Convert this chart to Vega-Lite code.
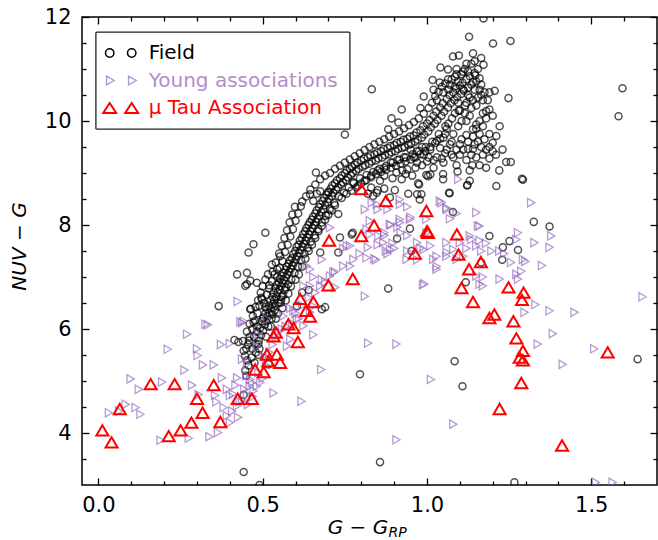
{
  "$schema": "https://vega.github.io/schema/vega-lite/v6.json",
  "width": 575,
  "height": 468,
  "autosize": {"type": "none"},
  "padding": {"left": 82, "top": 17, "right": 1, "bottom": 55},
  "config": {
    "font": "DejaVu Sans",
    "view": {"stroke": "black", "strokeWidth": 1.5},
    "axis": {
      "domain": false, "grid": false,
      "tickColor": "black", "tickWidth": 1.3,
      "labelFont": "DejaVu Sans", "labelFontSize": 21, "labelColor": "black",
      "labelFlush": false, "labelOverlap": false,
      "titleFont": "DejaVu Sans", "titleFontSize": 20, "titleFontWeight": "normal", "titleColor": "black"
    },
    "legend": {"strokeWidth": 1.3}
  },
  "datasets": {
    "field": [
      {"x":0.468,"y":5.62},{"x":0.474,"y":5.85},{"x":0.479,"y":5.55},{"x":0.483,"y":5.95},{"x":0.488,"y":5.78},{"x":0.492,"y":6.02},{"x":0.495,"y":5.88},{"x":0.498,"y":6.15},{"x":0.501,"y":5.97},{"x":0.503,"y":6.22},
      {"x":0.506,"y":6.08},{"x":0.508,"y":6.3},{"x":0.511,"y":6.15},{"x":0.513,"y":6.38},{"x":0.515,"y":6.24},{"x":0.517,"y":6.05},{"x":0.519,"y":6.45},{"x":0.521,"y":6.3},{"x":0.523,"y":6.55},{"x":0.525,"y":6.4},
      {"x":0.527,"y":6.2},{"x":0.529,"y":6.62},{"x":0.531,"y":6.48},{"x":0.533,"y":6.7},{"x":0.535,"y":6.55},{"x":0.537,"y":6.36},{"x":0.539,"y":6.78},{"x":0.541,"y":6.62},{"x":0.543,"y":6.85},{"x":0.545,"y":6.7},
      {"x":0.547,"y":6.5},{"x":0.549,"y":6.9},{"x":0.551,"y":6.76},{"x":0.553,"y":6.96},{"x":0.555,"y":6.82},{"x":0.557,"y":6.62},{"x":0.559,"y":7.02},{"x":0.561,"y":6.88},{"x":0.563,"y":7.08},{"x":0.565,"y":6.94},
      {"x":0.567,"y":6.75},{"x":0.569,"y":7.14},{"x":0.571,"y":7.0},{"x":0.573,"y":7.2},{"x":0.575,"y":7.05},{"x":0.577,"y":6.86},{"x":0.579,"y":7.26},{"x":0.581,"y":7.1},{"x":0.583,"y":7.32},{"x":0.585,"y":7.16},
      {"x":0.587,"y":6.95},{"x":0.589,"y":7.36},{"x":0.591,"y":7.22},{"x":0.593,"y":7.44},{"x":0.595,"y":7.28},{"x":0.597,"y":7.08},{"x":0.599,"y":7.5},{"x":0.601,"y":7.34},{"x":0.603,"y":7.58},{"x":0.605,"y":7.4},
      {"x":0.607,"y":7.2},{"x":0.609,"y":7.62},{"x":0.611,"y":7.46},{"x":0.613,"y":7.7},{"x":0.615,"y":7.52},{"x":0.617,"y":7.32},{"x":0.619,"y":7.75},{"x":0.621,"y":7.58},{"x":0.623,"y":7.82},{"x":0.625,"y":7.64},
      {"x":0.627,"y":7.45},{"x":0.629,"y":7.88},{"x":0.631,"y":7.7},{"x":0.633,"y":7.94},{"x":0.635,"y":7.76},{"x":0.637,"y":7.56},{"x":0.639,"y":8.0},{"x":0.641,"y":7.82},{"x":0.643,"y":8.05},{"x":0.645,"y":7.88},
      {"x":0.647,"y":7.68},{"x":0.649,"y":8.1},{"x":0.651,"y":7.94},{"x":0.653,"y":8.16},{"x":0.656,"y":8.0},{"x":0.658,"y":7.8},{"x":0.66,"y":8.22},{"x":0.662,"y":8.06},{"x":0.664,"y":8.28},{"x":0.667,"y":8.12},
      {"x":0.669,"y":7.92},{"x":0.671,"y":8.34},{"x":0.673,"y":8.18},{"x":0.675,"y":8.4},{"x":0.678,"y":8.25},{"x":0.68,"y":8.05},{"x":0.682,"y":8.46},{"x":0.685,"y":8.3},{"x":0.687,"y":8.52},{"x":0.69,"y":8.38},
      {"x":0.692,"y":8.18},{"x":0.694,"y":8.58},{"x":0.697,"y":8.44},{"x":0.699,"y":8.64},{"x":0.702,"y":8.5},{"x":0.704,"y":8.3},{"x":0.707,"y":8.7},{"x":0.71,"y":8.56},{"x":0.712,"y":8.76},{"x":0.715,"y":8.62},
      {"x":0.718,"y":8.42},{"x":0.72,"y":8.8},{"x":0.723,"y":8.68},{"x":0.726,"y":8.86},{"x":0.729,"y":8.72},{"x":0.732,"y":8.55},{"x":0.735,"y":8.9},{"x":0.738,"y":8.78},{"x":0.741,"y":8.95},{"x":0.744,"y":8.82},
      {"x":0.747,"y":8.62},{"x":0.75,"y":9.0},{"x":0.753,"y":8.86},{"x":0.756,"y":9.05},{"x":0.759,"y":8.92},{"x":0.762,"y":8.72},{"x":0.765,"y":9.08},{"x":0.768,"y":8.96},{"x":0.771,"y":9.12},{"x":0.774,"y":9.0},
      {"x":0.777,"y":8.8},{"x":0.78,"y":9.16},{"x":0.784,"y":9.04},{"x":0.788,"y":9.2},{"x":0.792,"y":9.08},{"x":0.796,"y":8.9},{"x":0.8,"y":9.24},{"x":0.804,"y":9.12},{"x":0.808,"y":9.28},{"x":0.812,"y":9.15},
      {"x":0.816,"y":8.96},{"x":0.82,"y":9.3},{"x":0.824,"y":9.18},{"x":0.828,"y":9.34},{"x":0.832,"y":9.22},{"x":0.836,"y":9.02},{"x":0.84,"y":9.36},{"x":0.844,"y":9.24},{"x":0.848,"y":9.4},{"x":0.852,"y":9.28},
      {"x":0.856,"y":9.08},{"x":0.86,"y":9.42},{"x":0.864,"y":9.3},{"x":0.868,"y":9.46},{"x":0.872,"y":9.34},{"x":0.876,"y":9.14},{"x":0.88,"y":9.48},{"x":0.884,"y":9.36},{"x":0.888,"y":9.52},{"x":0.892,"y":9.4},
      {"x":0.896,"y":9.2},{"x":0.9,"y":9.54},{"x":0.904,"y":9.42},{"x":0.908,"y":9.58},{"x":0.912,"y":9.46},{"x":0.916,"y":9.26},{"x":0.92,"y":9.6},{"x":0.924,"y":9.48},{"x":0.928,"y":9.64},{"x":0.932,"y":9.5},
      {"x":0.936,"y":9.3},{"x":0.94,"y":9.66},{"x":0.944,"y":9.54},{"x":0.948,"y":9.7},{"x":0.952,"y":9.56},{"x":0.956,"y":9.36},{"x":0.96,"y":9.72},{"x":0.964,"y":9.6},{"x":0.968,"y":9.78},{"x":0.972,"y":9.64},
      {"x":0.976,"y":9.42},{"x":0.98,"y":9.82},{"x":0.984,"y":9.68},{"x":0.988,"y":9.9},{"x":0.992,"y":9.74},{"x":0.996,"y":9.5},{"x":1.0,"y":9.95},{"x":1.004,"y":9.8},{"x":1.008,"y":10.02},{"x":1.012,"y":9.88},
      {"x":1.016,"y":9.6},{"x":1.02,"y":10.1},{"x":1.024,"y":9.95},{"x":1.028,"y":10.18},{"x":1.032,"y":10.02},{"x":1.036,"y":9.75},{"x":1.04,"y":10.26},{"x":1.044,"y":10.1},{"x":1.048,"y":10.34},{"x":1.052,"y":10.18},
      {"x":1.056,"y":9.9},{"x":1.06,"y":10.42},{"x":1.064,"y":10.26},{"x":1.068,"y":10.5},{"x":1.072,"y":10.34},{"x":1.076,"y":10.05},{"x":1.08,"y":10.55},{"x":1.084,"y":10.4},{"x":1.088,"y":10.62},{"x":1.092,"y":10.46},
      {"x":1.096,"y":10.2},{"x":1.1,"y":10.68},{"x":1.104,"y":10.52},{"x":1.108,"y":10.74},{"x":1.112,"y":10.58},{"x":1.116,"y":10.3},{"x":1.12,"y":10.8},{"x":1.125,"y":10.64},{"x":1.13,"y":10.86},{"x":1.135,"y":10.7},
      {"x":1.14,"y":10.4},{"x":1.145,"y":10.92},{"x":1.15,"y":10.76},{"x":1.155,"y":11.0},{"x":1.16,"y":10.82},{"x":1.165,"y":10.5},
      {"x":0.452,"y":5.95},{"x":0.46,"y":6.1},{"x":0.47,"y":6.25},{"x":0.478,"y":6.42},{"x":0.486,"y":6.55},{"x":0.494,"y":6.7},{"x":0.5,"y":6.82},{"x":0.508,"y":6.95},{"x":0.516,"y":7.05},{"x":0.46,"y":5.85},
      {"x":0.468,"y":6.0},{"x":0.476,"y":6.16},{"x":0.484,"y":6.3},{"x":0.49,"y":6.45},{"x":0.496,"y":6.6},{"x":0.504,"y":6.5},{"x":0.512,"y":6.66},{"x":0.52,"y":6.78},{"x":0.528,"y":6.92},{"x":0.536,"y":7.05},
      {"x":0.544,"y":7.15},{"x":0.5,"y":6.2},{"x":0.508,"y":6.42},{"x":0.53,"y":6.28},{"x":0.538,"y":6.45},{"x":0.546,"y":6.3},{"x":0.554,"y":6.5},{"x":0.562,"y":6.65},{"x":0.57,"y":6.8},{"x":0.578,"y":6.68},
      {"x":0.586,"y":6.82},{"x":0.56,"y":6.4},{"x":0.57,"y":6.55},{"x":0.45,"y":5.62},{"x":0.458,"y":5.78},{"x":0.466,"y":5.45},{"x":0.475,"y":5.35},{"x":0.49,"y":5.62},{"x":0.51,"y":5.85},{"x":0.525,"y":6.05},
      {"x":0.54,"y":6.2},{"x":0.53,"y":7.1},{"x":0.54,"y":7.28},{"x":0.55,"y":7.45},{"x":0.558,"y":7.6},{"x":0.566,"y":7.75},{"x":0.574,"y":7.9},{"x":0.582,"y":8.05},{"x":0.59,"y":8.2},{"x":0.598,"y":8.35},
      {"x":0.544,"y":7.0},{"x":0.552,"y":7.18},{"x":0.56,"y":7.3},{"x":0.568,"y":7.48},{"x":0.576,"y":7.62},{"x":0.584,"y":7.78},{"x":0.592,"y":7.92},{"x":0.6,"y":8.08},{"x":0.608,"y":8.22},{"x":0.616,"y":8.36},
      {"x":0.6,"y":6.95},{"x":0.61,"y":7.05},{"x":0.62,"y":7.2},{"x":0.63,"y":7.35},{"x":0.64,"y":7.5},{"x":0.65,"y":7.62},{"x":0.66,"y":7.75},{"x":0.67,"y":7.88},{"x":0.68,"y":7.98},{"x":0.69,"y":8.1},
      {"x":0.7,"y":8.2},{"x":0.71,"y":8.28},{"x":0.72,"y":8.38},{"x":0.62,"y":8.45},{"x":0.632,"y":8.55},{"x":0.645,"y":8.68},{"x":0.66,"y":8.78},{"x":0.675,"y":8.88},{"x":0.69,"y":8.95},{"x":0.705,"y":9.0},
      {"x":0.72,"y":9.08},{"x":0.735,"y":9.14},{"x":0.75,"y":9.2},{"x":0.765,"y":9.26},{"x":0.78,"y":9.32},{"x":0.795,"y":9.38},{"x":0.81,"y":9.44},{"x":0.825,"y":9.5},{"x":0.84,"y":9.55},{"x":0.855,"y":9.6},
      {"x":0.87,"y":9.65},{"x":0.885,"y":9.7},{"x":0.9,"y":9.75},{"x":0.915,"y":9.8},{"x":0.93,"y":9.86},{"x":0.945,"y":9.92},{"x":0.96,"y":9.98},{"x":0.975,"y":10.05},{"x":0.99,"y":10.14},{"x":0.74,"y":8.52},
      {"x":0.755,"y":8.6},{"x":0.77,"y":8.66},{"x":0.785,"y":8.72},{"x":0.8,"y":8.8},{"x":0.815,"y":8.86},{"x":0.83,"y":8.92},{"x":0.845,"y":8.98},{"x":0.86,"y":9.02},{"x":0.875,"y":9.06},{"x":0.89,"y":9.1},
      {"x":0.905,"y":9.14},{"x":0.92,"y":9.18},{"x":0.935,"y":9.22},{"x":0.95,"y":9.26},{"x":0.965,"y":9.3},{"x":0.98,"y":9.36},{"x":0.995,"y":9.42},{"x":1.01,"y":9.5},{"x":1.025,"y":9.58},{"x":1.04,"y":9.66},
      {"x":1.005,"y":10.25},{"x":1.015,"y":10.35},{"x":1.025,"y":10.48},{"x":1.035,"y":10.56},{"x":1.045,"y":10.66},{"x":1.055,"y":10.72},{"x":1.065,"y":10.6},{"x":1.075,"y":10.8},{"x":1.085,"y":10.85},{"x":1.095,"y":10.75},
      {"x":1.105,"y":10.9},{"x":1.115,"y":11.0},{"x":1.125,"y":10.95},{"x":1.135,"y":11.1},{"x":1.145,"y":11.15},{"x":1.055,"y":9.75},{"x":1.065,"y":9.95},{"x":1.075,"y":9.6},{"x":1.085,"y":10.15},{"x":1.095,"y":10.35},
      {"x":1.105,"y":10.0},{"x":1.115,"y":10.15},{"x":1.125,"y":10.5},{"x":1.135,"y":10.25},{"x":1.145,"y":10.6},{"x":1.155,"y":10.45},{"x":1.165,"y":10.7},{"x":1.175,"y":10.55},{"x":1.185,"y":10.4},{"x":1.17,"y":10.15},
      {"x":1.16,"y":10.0},{"x":1.15,"y":9.85},{"x":1.175,"y":9.65},{"x":1.165,"y":9.5},{"x":1.145,"y":9.55},{"x":1.135,"y":9.35},{"x":1.125,"y":9.6},{"x":1.105,"y":9.65},{"x":1.09,"y":9.45},{"x":1.075,"y":9.35},
      {"x":1.055,"y":9.38},{"x":1.045,"y":9.28},{"x":1.02,"y":9.25},{"x":1.005,"y":9.3},{"x":0.985,"y":9.15},{"x":0.965,"y":9.1},{"x":0.955,"y":8.95},{"x":0.925,"y":9.05},{"x":0.895,"y":8.9},{"x":0.87,"y":8.95},
      {"x":1.172,"y":11.97},{"x":1.128,"y":11.62},{"x":1.201,"y":11.49},{"x":1.254,"y":11.54},{"x":1.079,"y":11.24},{"x":1.097,"y":11.26},{"x":1.14,"y":11.3},{"x":1.165,"y":11.21},{"x":1.172,"y":11.08},{"x":1.041,"y":11.03},
      {"x":1.064,"y":10.99},{"x":1.09,"y":10.9},{"x":1.147,"y":10.88},{"x":1.017,"y":10.79},{"x":1.039,"y":10.74},{"x":1.064,"y":10.8},{"x":1.085,"y":10.66},{"x":1.11,"y":10.61},{"x":1.14,"y":10.75},{"x":1.206,"y":10.58},
      {"x":1.248,"y":10.44},{"x":0.832,"y":10.61},{"x":1.595,"y":10.63},{"x":1.583,"y":10.09},{"x":0.923,"y":10.22},{"x":0.99,"y":10.47},{"x":0.98,"y":10.25},{"x":0.75,"y":9.74},{"x":0.892,"y":10.05},{"x":0.913,"y":9.97},
      {"x":0.882,"y":9.84},{"x":1.18,"y":10.19},{"x":1.19,"y":10.22},{"x":1.221,"y":9.9},{"x":1.211,"y":9.71},{"x":1.2,"y":9.58},{"x":1.2,"y":9.42},{"x":1.19,"y":9.28},{"x":1.18,"y":9.45},{"x":1.138,"y":9.15},
      {"x":1.125,"y":9.46},{"x":1.14,"y":9.46},{"x":1.14,"y":9.84},{"x":1.14,"y":9.7},{"x":1.15,"y":9.93},{"x":1.155,"y":9.6},{"x":1.12,"y":9.73},{"x":1.1,"y":9.55},{"x":1.11,"y":9.45},{"x":1.07,"y":9.55},
      {"x":1.06,"y":9.45},{"x":1.04,"y":9.48},{"x":1.241,"y":9.21},{"x":1.255,"y":9.21},{"x":1.289,"y":8.89},{"x":1.292,"y":8.87},{"x":1.211,"y":8.75},{"x":1.123,"y":8.77},{"x":1.067,"y":8.62},{"x":1.093,"y":9.03},
      {"x":1.049,"y":8.98},{"x":0.998,"y":8.96},{"x":1.01,"y":8.97},{"x":0.973,"y":8.8},{"x":0.943,"y":8.6},{"x":0.923,"y":8.88},{"x":0.935,"y":8.98},{"x":0.902,"y":8.67},{"x":0.857,"y":8.85},{"x":0.85,"y":8.67},
      {"x":0.83,"y":8.72},{"x":0.776,"y":8.82},{"x":0.94,"y":9.07},{"x":0.97,"y":9.2},{"x":1.02,"y":9.1},
      {"x":0.96,"y":9.3},{"x":0.99,"y":9.35},{"x":1.0,"y":9.22},{"x":1.03,"y":9.3},{"x":1.05,"y":9.2},{"x":1.08,"y":9.3},{"x":1.09,"y":9.15},{"x":1.1,"y":9.35},{"x":1.12,"y":9.25},{"x":1.13,"y":9.05},
      {"x":1.15,"y":9.3},{"x":1.16,"y":9.15},{"x":1.17,"y":9.35},{"x":1.18,"y":9.1},{"x":1.19,"y":9.5},{"x":1.21,"y":9.35},{"x":1.22,"y":9.05},{"x":1.23,"y":9.45},{"x":1.16,"y":9.75},{"x":1.17,"y":9.9},
      {"x":1.18,"y":10.05},{"x":1.2,"y":10.1},{"x":1.19,"y":9.75},{"x":1.13,"y":10.1},{"x":1.12,"y":10.0},{"x":1.1,"y":10.2},{"x":1.095,"y":9.9},{"x":1.08,"y":9.75},{"x":1.06,"y":9.85},{"x":1.05,"y":9.68},
      {"x":1.03,"y":9.62},{"x":1.01,"y":9.45},{"x":0.985,"y":9.5},{"x":0.97,"y":9.42},{"x":0.95,"y":9.45},{"x":0.93,"y":9.3},{"x":0.91,"y":9.25},{"x":0.89,"y":9.2},{"x":0.87,"y":9.1},{"x":0.85,"y":9.05},
      {"x":0.83,"y":8.95},{"x":0.81,"y":8.85},{"x":0.79,"y":8.75},{"x":1.13,"y":10.45},{"x":1.15,"y":10.3},{"x":1.17,"y":10.4},{"x":1.16,"y":10.6},{"x":1.12,"y":10.35},{"x":1.19,"y":10.55},{"x":1.05,"y":10.55},
      {"x":1.03,"y":10.4},{"x":1.02,"y":10.6},{"x":1.07,"y":10.7},{"x":1.09,"y":11.0},{"x":1.11,"y":10.95},{"x":1.12,"y":11.1},
      {"x":1.049,"y":8.88},{"x":1.13,"y":8.85},{"x":0.976,"y":8.78},{"x":0.983,"y":8.59},{"x":0.978,"y":8.49},{"x":1.069,"y":8.61},{"x":1.122,"y":8.76},{"x":1.079,"y":8.25},{"x":1.325,"y":8.06},{"x":1.373,"y":7.97},
      {"x":0.948,"y":7.93},{"x":0.909,"y":7.74},{"x":1.19,"y":7.79},{"x":1.251,"y":7.69},{"x":1.231,"y":7.57},{"x":1.277,"y":7.52},{"x":1.229,"y":7.33},{"x":0.953,"y":7.5},{"x":1.118,"y":6.9},{"x":0.882,"y":6.78},
      {"x":0.662,"y":9.01},{"x":1.003,"y":8.94},{"x":0.97,"y":8.59},{"x":0.887,"y":8.53},{"x":0.847,"y":8.62},{"x":0.87,"y":8.7},{"x":0.82,"y":8.6},{"x":0.774,"y":7.85},{"x":0.735,"y":7.76},{"x":0.73,"y":7.47},
      {"x":0.675,"y":7.47},{"x":1.165,"y":7.28},{"x":0.508,"y":7.85},{"x":0.472,"y":7.63},{"x":0.457,"y":7.47},{"x":0.528,"y":7.24},{"x":0.422,"y":7.05},{"x":0.452,"y":7.08},{"x":0.644,"y":8.59},{"x":0.654,"y":8.46},
      {"x":0.7,"y":8.62},{"x":0.73,"y":8.21},{"x":0.771,"y":7.82},{"x":0.836,"y":8.56},{"x":0.907,"y":9.01},{"x":0.482,"y":6.89},{"x":0.447,"y":6.83},{"x":0.553,"y":7.4},{"x":0.498,"y":6.57},{"x":0.462,"y":6.38},
      {"x":0.68,"y":6.38},{"x":0.69,"y":6.42},{"x":0.665,"y":8.6},{"x":0.675,"y":8.65},
      {"x":0.414,"y":5.79},{"x":0.44,"y":5.77},{"x":0.442,"y":5.58},{"x":0.446,"y":5.48},{"x":0.452,"y":5.4},{"x":0.457,"y":5.3},{"x":0.45,"y":5.1},{"x":0.447,"y":5.2},{"x":0.442,"y":4.73},{"x":0.366,"y":6.44},
      {"x":0.464,"y":6.39},{"x":0.472,"y":6.13},{"x":0.482,"y":6.05},{"x":0.487,"y":5.71},{"x":0.487,"y":5.5},{"x":0.518,"y":5.32},{"x":0.455,"y":5.7},{"x":0.48,"y":5.7},{"x":0.426,"y":5.75},{"x":0.442,"y":3.25},
      {"x":0.49,"y":3.0},{"x":0.452,"y":6.86},{"x":0.462,"y":6.93},{"x":0.52,"y":6.84},{"x":0.556,"y":6.56},{"x":0.604,"y":6.44},{"x":0.62,"y":6.7},{"x":0.64,"y":6.75},
      {"x":0.796,"y":5.13},{"x":1.084,"y":5.38},{"x":1.108,"y":4.9},{"x":0.857,"y":3.44},{"x":1.266,"y":3.05},{"x":1.641,"y":5.42}
    ],
    "young": [
      {"x":0.032,"y":4.39},{"x":0.063,"y":4.42},{"x":0.083,"y":4.55},{"x":0.113,"y":4.49},{"x":0.128,"y":4.36},{"x":0.098,"y":5.04},{"x":0.123,"y":4.84},{"x":0.194,"y":4.98},{"x":0.211,"y":5.61},{"x":0.27,"y":5.9},
      {"x":0.3,"y":5.62},{"x":0.302,"y":5.49},{"x":0.262,"y":5.21},{"x":0.318,"y":5.31},{"x":0.351,"y":5.31},{"x":0.326,"y":6.09},{"x":0.333,"y":6.08},{"x":0.373,"y":5.7},{"x":0.4,"y":5.72},{"x":0.432,"y":6.14},
      {"x":0.424,"y":6.53},{"x":0.285,"y":4.92},{"x":0.305,"y":4.74},{"x":0.355,"y":4.72},{"x":0.4,"y":4.72},{"x":0.189,"y":3.86},{"x":0.275,"y":3.9},{"x":0.338,"y":3.93},{"x":0.364,"y":4.01},{"x":0.533,"y":4.77},
      {"x":0.618,"y":4.61},{"x":0.678,"y":5.22},{"x":0.654,"y":5.89},{"x":0.376,"y":5.06},{"x":0.422,"y":5.06},{"x":0.391,"y":4.84},{"x":0.417,"y":4.92},{"x":0.444,"y":4.84},{"x":0.482,"y":4.9},{"x":0.462,"y":5.03},
      {"x":0.45,"y":5.1},{"x":0.391,"y":4.33},{"x":0.407,"y":4.42},{"x":0.422,"y":4.52},{"x":0.381,"y":4.49},{"x":0.359,"y":4.6},{"x":0.437,"y":4.65},{"x":0.452,"y":4.74},{"x":0.472,"y":4.81},{"x":0.493,"y":4.97},
      {"x":0.467,"y":4.97},{"x":0.487,"y":5.16},{"x":0.452,"y":5.32},{"x":0.437,"y":5.42},{"x":0.503,"y":5.48},{"x":0.482,"y":5.67},{"x":0.487,"y":5.9},{"x":0.437,"y":6.12},{"x":0.442,"y":6.15},{"x":0.513,"y":6.19},
      {"x":0.558,"y":6.0},{"x":0.584,"y":5.8},{"x":0.604,"y":6.19},{"x":0.624,"y":6.06},{"x":0.644,"y":6.32},{"x":0.594,"y":6.35},{"x":0.574,"y":5.67},{"x":0.563,"y":6.25},{"x":0.584,"y":6.4},{"x":0.61,"y":6.2},
      {"x":0.654,"y":6.44},{"x":0.675,"y":6.83},{"x":0.634,"y":7.21},{"x":0.654,"y":7.0},{"x":0.624,"y":6.83},{"x":0.644,"y":6.83},{"x":0.68,"y":6.95},{"x":0.705,"y":7.02},{"x":0.72,"y":7.1},{"x":0.72,"y":6.8},
      {"x":0.644,"y":7.15},{"x":0.68,"y":7.34},{"x":0.715,"y":7.09},{"x":0.43,"y":4.6},{"x":0.455,"y":4.55},{"x":0.47,"y":4.7},{"x":0.41,"y":4.75},{"x":0.425,"y":4.3},{"x":0.4,"y":4.2},{"x":0.46,"y":4.9},
      {"x":0.5,"y":5.05},{"x":0.51,"y":5.3},{"x":0.52,"y":5.55},{"x":0.53,"y":5.7},{"x":0.54,"y":5.85},{"x":0.55,"y":5.95},{"x":0.57,"y":6.05},{"x":0.59,"y":6.1},{"x":0.6,"y":6.3},{"x":0.62,"y":6.45},
      {"x":0.64,"y":6.6},{"x":0.66,"y":6.7},{"x":0.69,"y":6.9},
      {"x":1.317,"y":8.43},{"x":1.378,"y":7.79},{"x":1.373,"y":7.57},{"x":1.327,"y":7.66},{"x":1.35,"y":7.22},{"x":1.292,"y":7.34},{"x":1.277,"y":7.85},{"x":1.272,"y":7.72},{"x":1.15,"y":8.24},{"x":1.155,"y":7.98},
      {"x":1.13,"y":7.79},{"x":1.16,"y":7.7},{"x":1.18,"y":7.65},{"x":1.196,"y":7.5},{"x":1.165,"y":7.5},{"x":1.22,"y":7.5},{"x":1.235,"y":7.45},{"x":1.256,"y":7.28},{"x":1.272,"y":7.05},{"x":1.221,"y":6.96},
      {"x":1.17,"y":6.83},{"x":1.15,"y":7.02},{"x":0.988,"y":6.85},{"x":0.992,"y":6.87},{"x":1.029,"y":7.15},{"x":1.019,"y":7.34},{"x":1.059,"y":7.4},{"x":1.08,"y":7.53},{"x":1.1,"y":7.66},{"x":1.12,"y":7.55},
      {"x":1.059,"y":7.66},{"x":1.044,"y":8.43},{"x":1.06,"y":8.3},{"x":1.09,"y":8.22},{"x":1.07,"y":8.12},{"x":0.998,"y":8.11},{"x":0.998,"y":7.85},{"x":0.948,"y":8.11},{"x":0.918,"y":8.05},{"x":0.89,"y":8.0},
      {"x":0.918,"y":8.4},{"x":0.94,"y":8.35},{"x":0.867,"y":7.66},{"x":0.888,"y":7.53},{"x":0.94,"y":7.5},{"x":0.99,"y":7.53},{"x":1.01,"y":7.6},{"x":1.299,"y":7.3},{"x":1.287,"y":7.11},{"x":1.33,"y":6.47},
      {"x":1.373,"y":6.35},{"x":1.449,"y":6.32},{"x":1.656,"y":6.62},{"x":1.297,"y":6.32},{"x":1.277,"y":6.96},{"x":0.821,"y":5.73},{"x":0.907,"y":5.71},{"x":1.012,"y":5.03},{"x":1.08,"y":4.17},{"x":0.907,"y":3.87},
      {"x":1.337,"y":5.71},{"x":1.383,"y":5.91},{"x":1.413,"y":5.32},{"x":1.509,"y":5.62},{"x":1.514,"y":3.05},{"x":1.565,"y":3.05},{"x":1.095,"y":8.88},{"x":1.039,"y":8.46},{"x":1.059,"y":8.33},{"x":0.917,"y":8.49},
      {"x":0.832,"y":8.43},{"x":0.811,"y":8.3},{"x":0.85,"y":8.3},{"x":0.88,"y":8.3},{"x":0.826,"y":8.08},{"x":0.917,"y":8.11},{"x":0.95,"y":8.15},{"x":0.887,"y":8.01},{"x":0.705,"y":7.95},{"x":0.826,"y":7.82},
      {"x":0.852,"y":7.79},{"x":0.87,"y":7.85},{"x":0.92,"y":7.85},{"x":0.94,"y":7.8},{"x":0.766,"y":7.6},{"x":0.745,"y":7.55},{"x":0.82,"y":7.57},{"x":0.85,"y":7.62},{"x":0.875,"y":7.5},{"x":0.895,"y":7.65},
      {"x":0.97,"y":7.66},{"x":0.98,"y":7.55},{"x":1.029,"y":7.4},{"x":1.06,"y":7.47},{"x":0.816,"y":7.37},{"x":0.845,"y":7.33},{"x":0.795,"y":7.45},{"x":0.938,"y":7.34},{"x":0.97,"y":7.33},{"x":0.766,"y":7.21},
      {"x":0.811,"y":6.63},{"x":1.03,"y":7.2},{"x":1.09,"y":7.34},{"x":1.11,"y":7.4},{"x":1.135,"y":7.72},{"x":1.15,"y":7.6},{"x":1.16,"y":7.98},{"x":1.17,"y":7.0},{"x":1.16,"y":6.86},{"x":0.847,"y":8.4},
      {"x":0.816,"y":7.92},{"x":0.91,"y":7.96},{"x":0.756,"y":7.6},{"x":0.776,"y":7.34},{"x":0.745,"y":7.21},{"x":0.84,"y":7.35},{"x":0.88,"y":7.45},{"x":0.9,"y":7.55},{"x":0.87,"y":7.8}
    ],
    "mutau": [
      {"x":0.012,"y":4.05},{"x":0.04,"y":3.82},{"x":0.065,"y":4.46},{"x":0.159,"y":4.94},{"x":0.232,"y":4.94},{"x":0.214,"y":3.94},{"x":0.25,"y":4.05},{"x":0.283,"y":4.2},{"x":0.3,"y":4.66},{"x":0.317,"y":4.39},
      {"x":0.351,"y":4.92},{"x":0.371,"y":4.21},{"x":0.424,"y":4.66},{"x":0.467,"y":4.66},{"x":0.477,"y":5.22},{"x":0.503,"y":5.17},{"x":0.513,"y":5.51},{"x":0.517,"y":5.38},{"x":0.543,"y":5.51},{"x":0.553,"y":5.35},
      {"x":0.533,"y":5.86},{"x":0.54,"y":5.93},{"x":0.578,"y":6.09},{"x":0.594,"y":6.02},{"x":0.607,"y":5.75},{"x":0.614,"y":6.58},{"x":0.654,"y":6.52},{"x":0.632,"y":6.35},{"x":0.644,"y":6.24},{"x":0.8,"y":8.69},
      {"x":0.875,"y":8.46},{"x":0.998,"y":8.27},{"x":0.839,"y":7.99},{"x":0.702,"y":7.7},{"x":0.8,"y":7.79},{"x":1.0,"y":7.88},{"x":1.003,"y":7.85},{"x":1.091,"y":7.82},{"x":0.963,"y":7.45},{"x":1.096,"y":7.43},
      {"x":1.164,"y":7.29},{"x":1.128,"y":7.15},{"x":0.774,"y":6.96},{"x":0.7,"y":6.84},{"x":1.105,"y":6.79},{"x":1.248,"y":6.8},{"x":1.294,"y":6.7},{"x":1.289,"y":6.56},{"x":1.14,"y":6.52},{"x":1.205,"y":6.28},
      {"x":1.19,"y":6.21},{"x":1.263,"y":6.15},{"x":1.272,"y":5.82},{"x":1.292,"y":5.58},{"x":1.282,"y":5.45},{"x":1.292,"y":5.4},{"x":1.287,"y":4.96},{"x":1.221,"y":4.46},{"x":1.411,"y":3.76},{"x":1.55,"y":5.55}
    ]
  },
  "resolve": {"axis": {"x": "independent", "y": "independent"}},
  "layer": [
    {
      "data": {"name": "field"},
      "mark": {"type": "point", "size": 50, "filled": false, "strokeWidth": 1.5, "opacity": 0.68, "clip": true},
      "encoding": {
        "x": {"field": "x", "type": "quantitative", "scale": {"domain": [-0.05, 1.7], "nice": false, "zero": false},
          "axis": {"orient": "bottom", "values": [0, 0.5, 1, 1.5], "format": ".1f", "tickSize": -7, "labelPadding": 16,
            "title": "G − G", "titleFontStyle": "italic", "titleX": 275.5, "titleY": 48, "titleAlign": "center", "titleBaseline": "alphabetic"}},
        "y": {"field": "y", "type": "quantitative", "scale": {"domain": [3, 12], "nice": false, "zero": false},
          "axis": {"orient": "left", "values": [4, 6, 8, 10, 12], "format": "d", "tickSize": -7, "labelPadding": 18,
            "title": "NUV − G", "titleFontStyle": "italic", "titleAngle": 270, "titleX": -57, "titleY": 229, "titleAlign": "center", "titleBaseline": "alphabetic"}},
        "color": {
          "datum": "Field",
          "scale": {"domain": ["Field", "Young associations", "μ Tau Association"], "range": ["black", "#9467bd", "red"]},
          "legend": {
            "title": null, "orient": "none", "legendX": 13.7, "legendY": 15,
            "padding": 11, "rowPadding": 7.5, "symbolSize": 484, "symbolOffset": 4, "labelOffset": 18,
            "labelFont": "DejaVu Sans", "labelFontSize": 20, "labelLimit": 400,
            "labelColor": {"expr": "datum.value === 'Field' ? 'black' : datum.value === 'Young associations' ? '#b48ccb' : 'red'"},
            "symbolType": {"expr": "datum.value === 'Field' ? 'M-1.382,0A0.382,0.382,0,1,1,-0.618,0A0.382,0.382,0,1,1,-1.382,0ZM0.618,0A0.382,0.382,0,1,1,1.382,0A0.382,0.382,0,1,1,0.618,0Z' : datum.value === 'Young associations' ? 'M-1.291,-0.395L-0.591,0L-1.291,0.395ZM0.709,-0.395L1.409,0L0.709,0.395Z' : 'M-1,-0.455L-1.591,0.455L-0.409,0.455ZM1,-0.455L0.409,0.455L1.591,0.455Z'"},
            "symbolStrokeWidth": {"expr": "datum.value === 'Field' ? 1.5 : datum.value === 'Young associations' ? 1.3 : 2"},
            "symbolOpacity": {"expr": "datum.value === 'Young associations' ? 0.7 : 1"},
            "symbolFillColor": "transparent",
            "fillColor": "rgba(255,255,255,0.8)", "strokeColor": "#222", "cornerRadius": 1
          }
        }
      }
    },
    {
      "data": {"name": "young"},
      "mark": {"type": "point", "shape": "triangle-right", "size": 70, "filled": false, "strokeWidth": 1.3, "opacity": 0.65, "clip": true},
      "encoding": {
        "x": {"field": "x", "type": "quantitative", "scale": {"domain": [-0.05, 1.7], "nice": false, "zero": false},
          "axis": {"orient": "bottom", "values": [0.1, 0.2, 0.3, 0.4, 0.6, 0.7, 0.8, 0.9, 1.1, 1.2, 1.3, 1.4, 1.6], "labels": false, "tickSize": -4, "title": null}},
        "y": {"field": "y", "type": "quantitative", "scale": {"domain": [3, 12], "nice": false, "zero": false},
          "axis": {"orient": "left", "values": [3.5, 4.5, 5, 5.5, 6.5, 7, 7.5, 8.5, 9, 9.5, 10.5, 11, 11.5], "labels": false, "tickSize": -4, "title": null}},
        "color": {"datum": "Young associations"}
      }
    },
    {
      "data": {"name": "mutau"},
      "mark": {"type": "point", "shape": "triangle-up", "size": 145, "filled": false, "strokeWidth": 2, "opacity": 1, "clip": true},
      "encoding": {
        "x": {"field": "x", "type": "quantitative", "scale": {"domain": [-0.05, 1.7], "nice": false, "zero": false},
          "axis": {"orient": "top", "values": [0, 0.5, 1, 1.5], "labels": false, "tickSize": -7, "title": null}},
        "y": {"field": "y", "type": "quantitative", "scale": {"domain": [3, 12], "nice": false, "zero": false},
          "axis": {"orient": "right", "values": [4, 6, 8, 10, 12], "labels": false, "tickSize": -7, "title": null}},
        "color": {"datum": "μ Tau Association"}
      }
    },
    {
      "data": {"values": []},
      "mark": {"type": "point"},
      "encoding": {
        "x": {"field": "x", "type": "quantitative",
          "axis": {"orient": "top", "values": [0.1, 0.2, 0.3, 0.4, 0.6, 0.7, 0.8, 0.9, 1.1, 1.2, 1.3, 1.4, 1.6], "labels": false, "tickSize": -4, "title": null}},
        "y": {"field": "y", "type": "quantitative",
          "axis": {"orient": "right", "values": [3.5, 4.5, 5, 5.5, 6.5, 7, 7.5, 8.5, 9, 9.5, 10.5, 11, 11.5], "labels": false, "tickSize": -4, "title": null}}
      }
    },
    {
      "data": {"values": []},
      "mark": {"type": "point"},
      "encoding": {
        "x": {"field": "x", "type": "quantitative",
          "axis": {"orient": "bottom", "labels": false, "ticks": false, "title": "RP", "titleFontSize": 14, "titleFontStyle": "italic",
            "titleX": 306, "titleY": 51, "titleAlign": "left", "titleBaseline": "alphabetic"}},
        "y": {"field": "y", "type": "quantitative", "axis": null}
      }
    }
  ]
}
